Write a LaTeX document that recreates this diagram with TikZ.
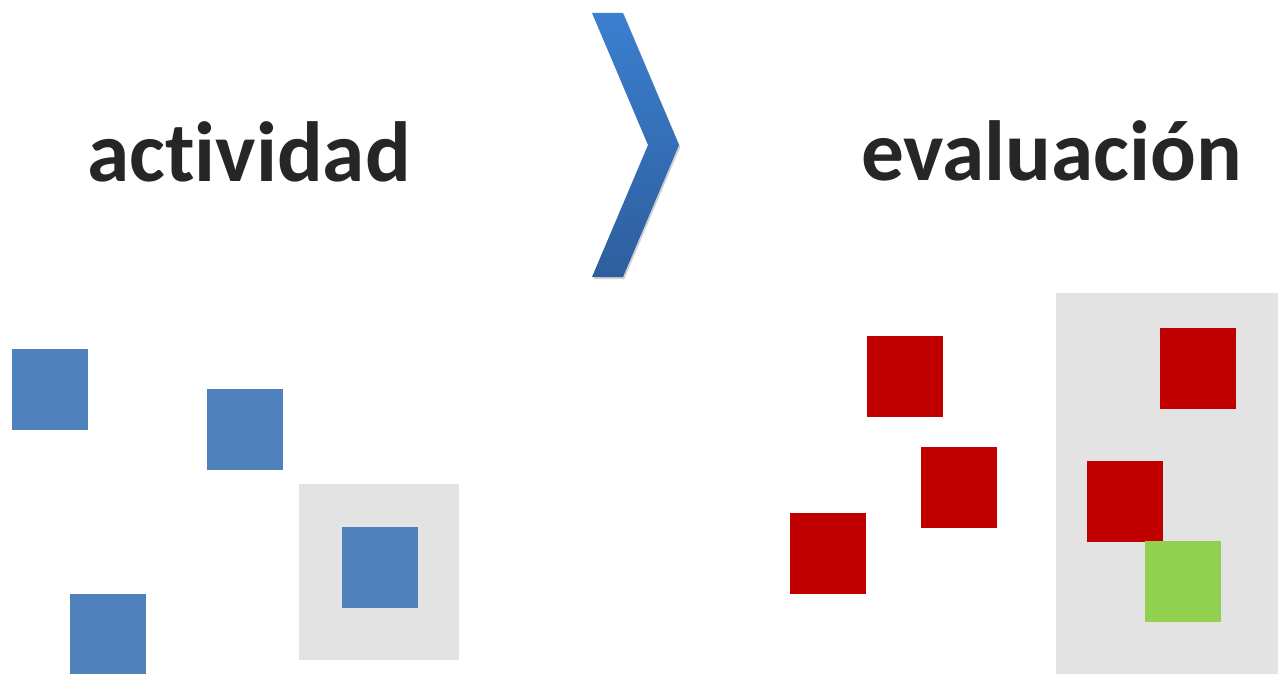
\documentclass[tikz,border=0pt]{standalone}
\usepackage{fontspec}
\setmainfont{Carlito}[Ligatures=NoCommon]
\usetikzlibrary{shadows}
\definecolor{boxblue}{HTML}{4F81BD}
\definecolor{boxred}{HTML}{C00000}
\definecolor{boxgreen}{HTML}{92D050}
\definecolor{panelgray}{HTML}{E3E3E3}
\definecolor{textgray}{HTML}{262626}
\definecolor{chevtop}{HTML}{3B7FCF}
\definecolor{chevbot}{HTML}{2E5E9E}
\begin{document}
\begin{tikzpicture}[x=0.75pt,y=-0.75pt]
\useasboundingbox (0,0) rectangle (1278,674);
\tikzset{every node/.style={inner sep=0pt,outer sep=0pt},
         box/.style={minimum width=57pt,minimum height=60.75pt},
         title/.style={font=\bfseries\fontsize{64}{70}\selectfont,text=textgray,anchor=base}}

% titles
\node[title] (act) at (249,181) {actividad};
\node[title] (eva) at (1051.5,180) {evaluación};

% chevron
\path[top color=chevtop,bottom color=chevbot,
      drop shadow={shadow xshift=1pt,shadow yshift=-1.5pt,opacity=0.3,fill=black!60}]
    (592,13) -- (623,13) -- (679,145) -- (623,277) -- (592,277) -- (648,145) -- cycle;

% panels
\begin{scope}[every node/.style={fill=panelgray,inner sep=0pt}]
    \node[minimum width=120pt,minimum height=132pt] (pl) at (379,572) {};
    \node[minimum width=166.5pt,minimum height=285.75pt] (pr) at (1167,483.5) {};
\end{scope}

% blue boxes
\begin{scope}[every node/.style={box,fill=boxblue,inner sep=0pt}]
    \node (A) at (50,389.5) {};
    \node (B) at (245,429.5) {};
    \node (C) at (380,567.5) {};
    \node (D) at (108,634.5) {};
\end{scope}

% red boxes
\begin{scope}[every node/.style={box,fill=boxred,inner sep=0pt}]
    \node (E) at (905,376.5) {};
    \node (F) at (959,487.5) {};
    \node (G) at (828,553.5) {};
    \node (H) at (1198,368.5) {};
    \node (I) at (1125,501.5) {};
\end{scope}
\node[box,fill=boxgreen,inner sep=0pt] (J) at (1183,581.5) {};
\end{tikzpicture}
\end{document}
